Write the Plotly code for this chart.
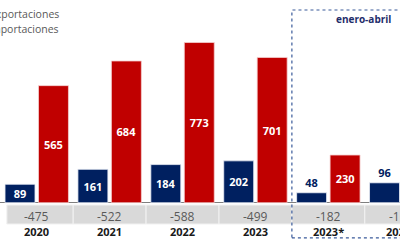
import plotly.graph_objects as go

categories = ["2020", "2021", "2022", "2023", "2023*", "2024*"]
exportaciones = [89, 161, 184, 202, 48, 96]
importaciones = [565, 684, 773, 701, 230, 265]
balanza = [-475, -522, -588, -499, -182, -169]
periodo_label = "enero-abril"
series_names = ["Exportaciones", "Importaciones"]

BLUE = "#002060"
RED = "#C00000"
FONT = "Open Sans"

k = 0.2072  # px per unit
base_px = 202.7
y_min = -(250 - base_px) / k
y_max = base_px / k
x_range = [-0.504, 4.983]
px_per_cat = 400 / (x_range[1] - x_range[0])

fig = go.Figure()

# grey band with balance cells
fig.add_trace(go.Bar(
    x=categories, y=[-92] * len(categories), base=[-11] * len(categories),
    width=[0.91] + [1] * (len(categories) - 1),
    offset=[-0.41] + [-0.5] * (len(categories) - 1),
    marker=dict(color="#d9d9d9", line=dict(color="#f2f2f2", width=1)),
    hoverinfo="skip", showlegend=False,
))

ex_pos = ["inside" if v > 80 and i < 4 else "outside" for i, v in enumerate(exportaciones)]
fig.add_trace(go.Bar(
    x=categories, y=exportaciones, name=series_names[0],
    width=0.411, offset=-0.435,
    marker=dict(color=BLUE, line=dict(color="#e8ecf5", width=0.8)),
    text=[str(v) for v in exportaciones], textposition=ex_pos,
    insidetextanchor="middle", textangle=0, constraintext="none",
    insidetextfont=dict(color="white", size=11, family=FONT, weight="bold"),
    outsidetextfont=dict(color=BLUE, size=11, family=FONT, weight="bold"),
    cliponaxis=False, showlegend=False,
))
fig.add_trace(go.Bar(
    x=categories, y=importaciones, name=series_names[1],
    width=0.411, offset=0.024,
    marker=dict(color=RED, line=dict(color="#f5d0d0", width=0.8)),
    text=[str(v) for v in importaciones], textposition="inside",
    insidetextanchor="middle", textangle=0, constraintext="none",
    insidetextfont=dict(color="white", size=11, family=FONT, weight="bold"),
    showlegend=False,
))

annotations = []
for i, (c, b) in enumerate(zip(categories, balanza)):
    xi = min(i, x_range[1] - 0.005)
    shift = (i - xi) * px_per_cat
    annotations.append(dict(x=xi, xshift=shift, y=-68, xref="x", yref="y",
                            text=str(b), showarrow=False,
                            font=dict(size=12, color="#595959", family=FONT)))
    annotations.append(dict(x=xi, xshift=shift, y=-141, xref="x", yref="y",
                            text=f"<b>{c}</b>", showarrow=False,
                            font=dict(size=11, color="#1a1a1a", family=FONT)))

annotations.append(dict(x=4.476, y=886, xref="x", yref="y", text=f"<b>{periodo_label}</b>",
                        showarrow=False, font=dict(size=10, color="#1f2e6b", family=FONT)))
annotations.append(dict(x=61 / 400, y=1 - 14 / 250, xref="paper", yref="paper",
                        xanchor="right", yanchor="middle", text=series_names[0],
                        showarrow=False, font=dict(size=10.5, color="#595959", family=FONT)))
annotations.append(dict(x=61 / 400, y=1 - 29 / 250, xref="paper", yref="paper",
                        xanchor="right", yanchor="middle", text=series_names[1],
                        showarrow=False, font=dict(size=10.5, color="#595959", family=FONT)))

shapes = [dict(type="rect", xref="x", yref="y", x0=3.5, x1=6.2, y0=-170, y1=930,
               line=dict(color="#3a5a9a", width=1.2, dash="dot"), fillcolor="rgba(0,0,0,0)")]

fig.update_layout(
    width=400, height=250,
    margin=dict(l=0, r=0, t=0, b=0),
    barmode="overlay",
    plot_bgcolor="white", paper_bgcolor="white",
    xaxis=dict(type="category", range=x_range, showticklabels=False,
               showgrid=False, zeroline=False, showline=False, ticks=""),
    yaxis=dict(range=[y_min, y_max], showticklabels=False, showgrid=False,
               zeroline=True, zerolinecolor="#7f7f7f", zerolinewidth=1, showline=False),
    annotations=annotations,
    shapes=shapes,
    font=dict(family=FONT),
)

fig.write_html("out.html")
